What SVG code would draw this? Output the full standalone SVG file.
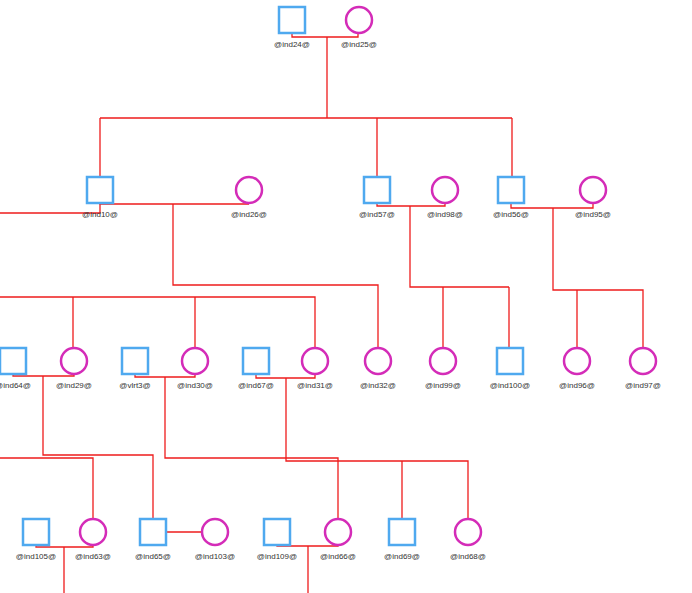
<svg xmlns="http://www.w3.org/2000/svg" width="692" height="593" viewBox="0 0 692 593">
<style>
.m{fill:#fff;stroke:#4fa9ef;stroke-width:2.5}
.f{fill:#fff;stroke:#d42cb8;stroke-width:2.5}
.l{font-family:"Liberation Sans",Arial,sans-serif;font-size:8px;fill:#333;text-anchor:middle}
.c{fill:none;stroke:#ee1c1c;stroke-width:1.3}
</style>
<rect width="692" height="593" fill="#fff"/>
<g id="connectors">
<path class="c" d="M292,33V37H358V33M327,37V118"/>
<path class="c" d="M100,118H512M100,118V177M377,118V177M512,118V177"/>
<path class="c" d="M100,203V204H249M173,204V285H378V348"/>
<path class="c" d="M0,213H100V203"/>
<path class="c" d="M377,203V206H445V203M410,206V287H509M443,287V348M509,287V348"/>
<path class="c" d="M511,203V208H593V203M553,208V290H643V348M577,290V348"/>
<path class="c" d="M0,297H315V348M73,297V348M195,297V348"/>
<path class="c" d="M13,374V376H74V374M43,376V455H153V519"/>
<path class="c" d="M135,374V377H195V374M165,377V458H338V519"/>
<path class="c" d="M0,458H93V519"/>
<path class="c" d="M256,374V378H315V374M286,378V461H468V519M402,461V519"/>
<path class="c" d="M36,545V547H93V545M64,547V593"/>
<path class="c" d="M166,532H202"/>
<path class="c" d="M277,545V546H338V545M308,546V593"/>
</g>
<g id="ind24"><rect class="m" x="279" y="7" width="26" height="26"/><text class="l" x="292" y="47">@ind24@</text></g>
<g id="ind25"><circle class="f" cx="359" cy="20" r="13"/><text class="l" x="359" y="47">@ind25@</text></g>
<g id="ind10"><rect class="m" x="87" y="177" width="26" height="26"/><text class="l" x="100" y="217">@ind10@</text></g>
<g id="ind26"><circle class="f" cx="249" cy="190" r="13"/><text class="l" x="249" y="217">@ind26@</text></g>
<g id="ind57"><rect class="m" x="364" y="177" width="26" height="26"/><text class="l" x="377" y="217">@ind57@</text></g>
<g id="ind98"><circle class="f" cx="445" cy="190" r="13"/><text class="l" x="445" y="217">@ind98@</text></g>
<g id="ind56"><rect class="m" x="498" y="177" width="26" height="26"/><text class="l" x="511" y="217">@ind56@</text></g>
<g id="ind95"><circle class="f" cx="593" cy="190" r="13"/><text class="l" x="593" y="217">@ind95@</text></g>
<g id="ind64"><rect class="m" x="0" y="348" width="26" height="26"/><text class="l" x="13" y="388">@ind64@</text></g>
<g id="ind29"><circle class="f" cx="74" cy="361" r="13"/><text class="l" x="74" y="388">@ind29@</text></g>
<g id="vlrt3"><rect class="m" x="122" y="348" width="26" height="26"/><text class="l" x="135" y="388">@vlrt3@</text></g>
<g id="ind30"><circle class="f" cx="195" cy="361" r="13"/><text class="l" x="195" y="388">@ind30@</text></g>
<g id="ind67"><rect class="m" x="243" y="348" width="26" height="26"/><text class="l" x="256" y="388">@ind67@</text></g>
<g id="ind31"><circle class="f" cx="315" cy="361" r="13"/><text class="l" x="315" y="388">@ind31@</text></g>
<g id="ind32"><circle class="f" cx="378" cy="361" r="13"/><text class="l" x="378" y="388">@ind32@</text></g>
<g id="ind99"><circle class="f" cx="443" cy="361" r="13"/><text class="l" x="443" y="388">@ind99@</text></g>
<g id="ind100"><rect class="m" x="497" y="348" width="26" height="26"/><text class="l" x="510" y="388">@ind100@</text></g>
<g id="ind96"><circle class="f" cx="577" cy="361" r="13"/><text class="l" x="577" y="388">@ind96@</text></g>
<g id="ind97"><circle class="f" cx="643" cy="361" r="13"/><text class="l" x="643" y="388">@ind97@</text></g>
<g id="ind105"><rect class="m" x="23" y="519" width="26" height="26"/><text class="l" x="36" y="559">@ind105@</text></g>
<g id="ind63"><circle class="f" cx="93" cy="532" r="13"/><text class="l" x="93" y="559">@ind63@</text></g>
<g id="ind65"><rect class="m" x="140" y="519" width="26" height="26"/><text class="l" x="153" y="559">@ind65@</text></g>
<g id="ind103"><circle class="f" cx="215" cy="532" r="13"/><text class="l" x="215" y="559">@ind103@</text></g>
<g id="ind109"><rect class="m" x="264" y="519" width="26" height="26"/><text class="l" x="277" y="559">@ind109@</text></g>
<g id="ind66"><circle class="f" cx="338" cy="532" r="13"/><text class="l" x="338" y="559">@ind66@</text></g>
<g id="ind69"><rect class="m" x="389" y="519" width="26" height="26"/><text class="l" x="402" y="559">@ind69@</text></g>
<g id="ind68"><circle class="f" cx="468" cy="532" r="13"/><text class="l" x="468" y="559">@ind68@</text></g>
</svg>
